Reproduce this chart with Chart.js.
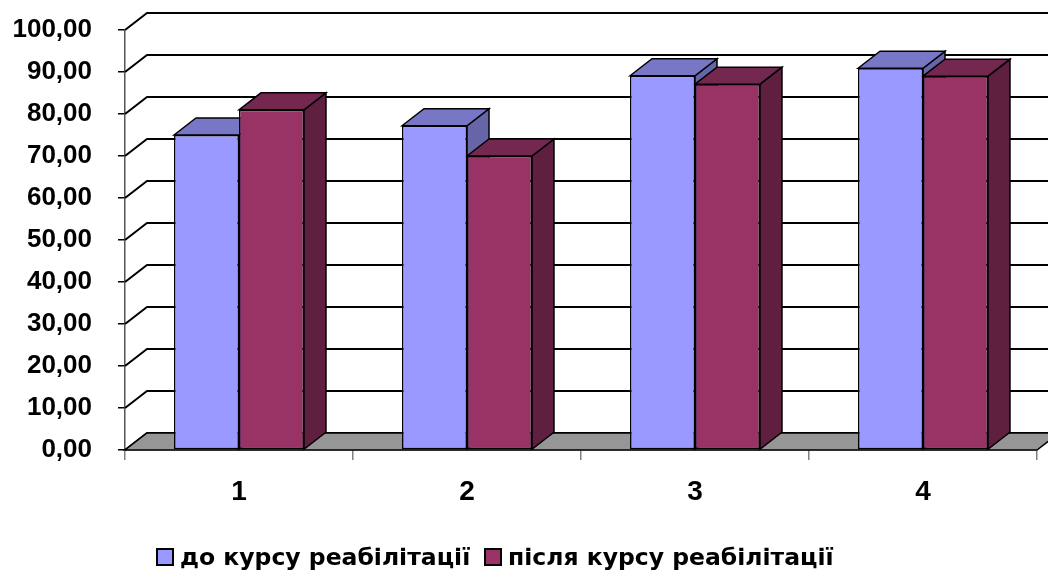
<!DOCTYPE html>
<html>
<head>
<meta charset="utf-8">
<script src="https://cdn.jsdelivr.net/npm/chart.js@4.4.1/dist/chart.umd.min.js"></script>
<style>
    body { margin: 0; background: #fff; }
    #wrap { position: relative; width: 1048px; height: 580px; }
    .legend-item {
        position: absolute; top: 543px; height: 28px;
        display: flex; align-items: center;
        font: bold 23.5px "DejaVu Sans", sans-serif; color: #000;
        white-space: nowrap;
    }
    .legend-box { width: 14px; height: 14px; border: 2px solid #000; margin-right: 6px; }
</style>
</head>
<body>
<div id="wrap">
    <canvas id="chart" width="1048" height="580"></canvas>
</div>
<script>
// Chart data
const categories = ['1', '2', '3', '4'];
const seriesNames = ['до курсу реабілітації', 'після курсу реабілітації'];
const beforeValues = [75.0, 77.2, 89.1, 90.9];
const afterValues = [81.0, 70.0, 87.1, 89.0];
const yTicks = [0, 10, 20, 30, 40, 50, 60, 70, 80, 90, 100];

// 3D look: front / top / side colours per series
const faceColors = [
    { front: '#9999FF', top: '#7777C6', side: '#6565A8' },
    { front: '#993366', top: '#75284F', side: '#5F1F3F' }
];
const legendLeft = [156, 484];
const DX = 22, DY = -17;

function poly(ctx, pts, fill) {
    ctx.beginPath();
    ctx.moveTo(pts[0][0], pts[0][1]);
    pts.slice(1).forEach(p => ctx.lineTo(p[0], p[1]));
    ctx.closePath();
    ctx.fillStyle = fill;
    ctx.fill();
    ctx.stroke();
}

// Draws back wall grid, floor and the side/top faces of the bars
const box3d = {
    id: 'box3d',
    beforeDatasetsDraw(chart) {
        const { ctx, chartArea: a, scales: { y } } = chart;
        ctx.save();
        ctx.strokeStyle = '#000';
        ctx.lineWidth = 2;
        yTicks.forEach(v => {
            const py = y.getPixelForValue(v);
            ctx.beginPath();
            ctx.moveTo(a.left, py);
            ctx.lineTo(a.left + DX, py + DY);
            ctx.lineTo(a.right + DX, py + DY);
            ctx.stroke();
        });

        // floor
        const p0 = y.getPixelForValue(0);
        ctx.lineWidth = 1.5;
        poly(ctx, [[a.left, p0], [a.right, p0], [a.right + DX, p0 + DY], [a.left + DX, p0 + DY]], '#969696');

        // bar sides and tops
        categories.forEach((_, i) => {
            chart.data.datasets.forEach((ds, di) => {
                const bar = chart.getDatasetMeta(di).data[i];
                const { x, y: top, base, width } = bar.getProps(['x', 'y', 'base', 'width'], true);
                const l = x - width / 2, r = x + width / 2;
                const c = faceColors[di];
                poly(ctx, [[r, top], [r + DX, top + DY], [r + DX, base + DY], [r, base]], c.side);
                poly(ctx, [[l, top], [l + DX, top + DY], [r + DX, top + DY], [r, top]], c.top);
            });
        });
        ctx.restore();
    }
};

const yFont = { family: '"Liberation Sans", Arial, sans-serif', size: 26, weight: 'bold' };
const xFont = { family: '"Liberation Sans", Arial, sans-serif', size: 28, weight: 'bold' };

new Chart(document.getElementById('chart'), {
    type: 'bar',
    data: {
        labels: categories,
        datasets: [beforeValues, afterValues].map((vals, i) => ({
            label: seriesNames[i],
            data: vals,
            backgroundColor: faceColors[i].front,
            borderColor: '#000',
            borderWidth: 1.5,
            borderSkipped: false,
            categoryPercentage: 0.57,
            barPercentage: 1.0
        }))
    },
    options: {
        responsive: false,
        animation: false,
        layout: { padding: { top: 30, right: 11, bottom: 50, left: 0 } },
        plugins: {
            legend: { display: false },
            tooltip: { enabled: false }
        },
        scales: {
            x: {
                grid: { drawOnChartArea: false, drawTicks: true, tickLength: 10, color: '#808080', lineWidth: 1.5 },
                border: { display: true, color: '#808080', width: 1.5 },
                ticks: { color: '#000', font: xFont, padding: 15 },
                afterFit(scale) { scale.height = 80; }
            },
            y: {
                min: 0,
                max: 100,
                grid: { drawOnChartArea: false, drawTicks: true, tickLength: 7, color: '#000', lineWidth: 1.5 },
                border: { display: true, color: '#555', width: 1.5 },
                ticks: {
                    stepSize: 10,
                    color: '#000',
                    font: yFont,
                    padding: 26,
                    callback: v => v.toFixed(2).replace('.', ',')
                },
                afterFit(scale) {
                    scale.width = 125;
                    // tick padding is horizontal here; don't let it push the top down
                    scale.paddingTop = 12;
                    scale.paddingBottom = 12;
                }
            }
        }
    },
    plugins: [box3d]
});

// legend
const wrap = document.getElementById('wrap');
seriesNames.forEach((name, i) => {
    const item = document.createElement('div');
    item.className = 'legend-item';
    item.style.left = legendLeft[i] + 'px';
    const sw = document.createElement('span');
    sw.className = 'legend-box';
    sw.style.background = faceColors[i].front;
    item.appendChild(sw);
    item.appendChild(document.createTextNode(name));
    wrap.appendChild(item);
});
</script>
</body>
</html>
